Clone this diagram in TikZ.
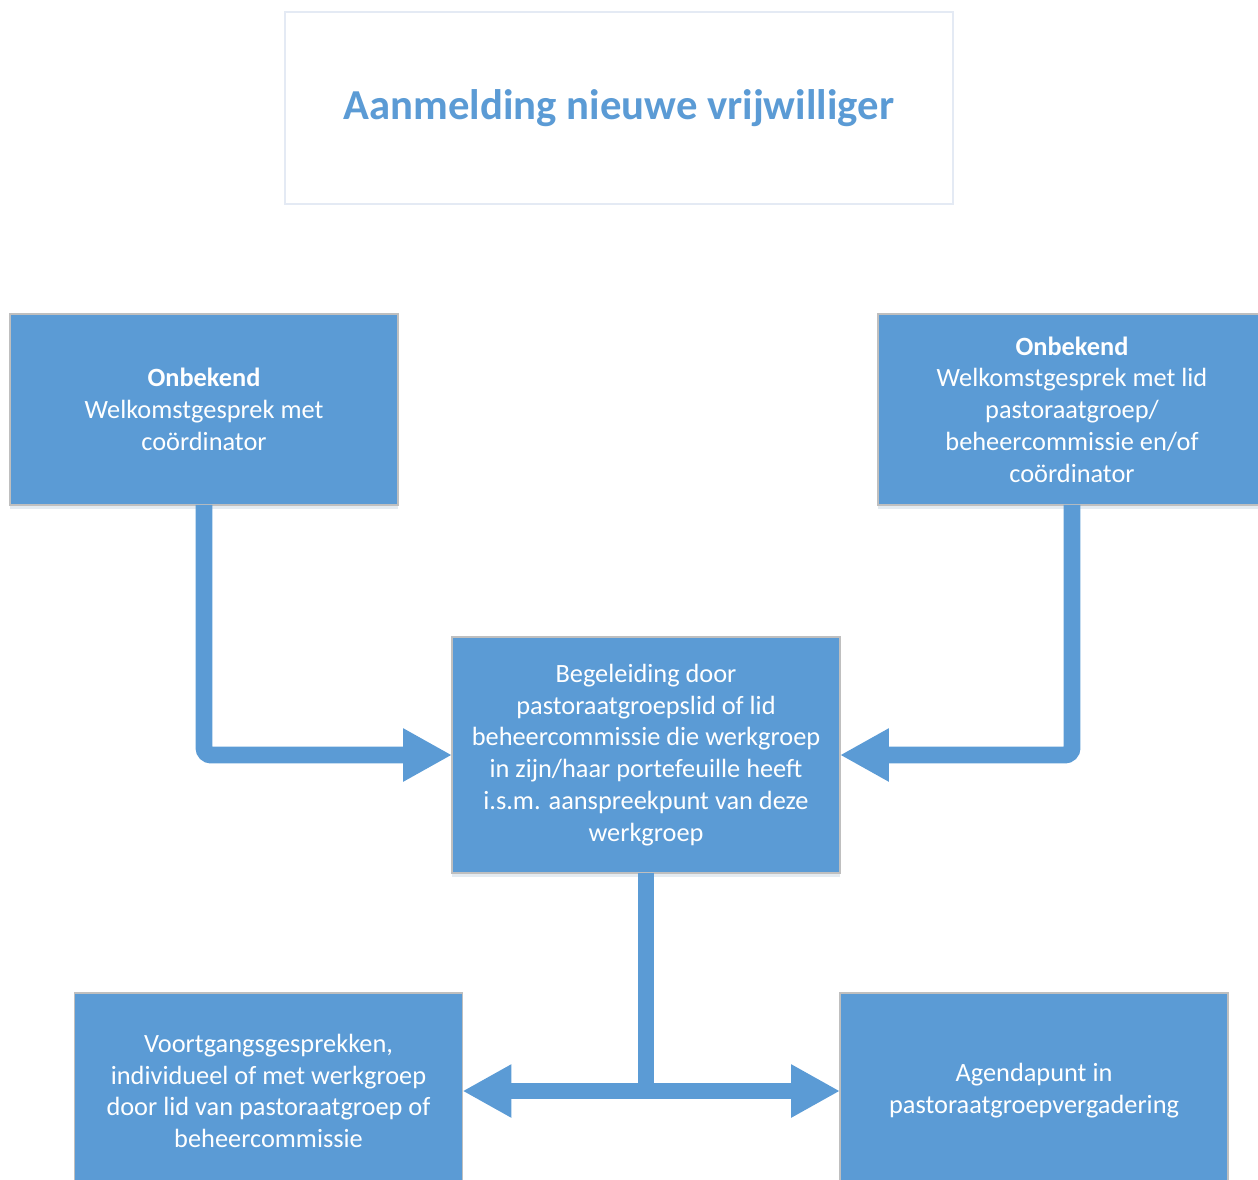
\documentclass[tikz,border=0pt]{standalone}
\usepackage{fontspec}
\setmainfont{Carlito}
\usetikzlibrary{arrows.meta,shadows}

\definecolor{vakblauw}{HTML}{5B9BD5}
\definecolor{vakrand}{HTML}{BFBFBF}
\definecolor{titelrand}{HTML}{E4EAF4}

\tikzset{
    vak/.style={draw=vakrand, line width=0.8pt, fill=vakblauw, text=white,
        inner sep=0pt, outer sep=0pt, minimum width=7.76cm, align=center,
        font=\fontsize{15}{18.1}\selectfont,
        drop shadow={shadow xshift=0pt, shadow yshift=-2.5pt, opacity=0.18, fill=vakblauw!60!gray}},
    titel/.style={draw=titelrand, line width=1.2pt, fill=white, text=vakblauw,
        inner sep=0pt, minimum width=13.36cm, minimum height=3.84cm,
        font=\fontsize{24.3}{29}\selectfont\bfseries},
    pijl/.style={draw=vakblauw, line width=9.6pt, rounded corners=4pt,
        -{Triangle[length=27.8pt, width=28.3pt]}},
    dubbelpijl/.style={pijl, {Triangle[length=27.8pt, width=28.3pt]}-{Triangle[length=27.8pt, width=28.3pt]}}
}

\begin{document}
\begin{tikzpicture}[x=0.02cm, y=-0.02cm]
        \useasboundingbox (0,0) rectangle (1258,1180);

        % Titel
        \node[titel] (Aanmelding) at (619,108) {Aanmelding nieuwe vrijwilliger};

        % Welkomstgesprekken
        \node[vak, minimum height=3.82cm] (OnbekendLinks) at (204,409.5)
            {\textbf{Onbekend}\\Welkomstgesprek met\\coördinator};
        \node[vak, minimum height=3.82cm] (OnbekendRechts) at (1072,409.5)
            {\textbf{Onbekend}\\Welkomstgesprek met lid\\pastoraatgroep/\\beheercommissie en/of\\coördinator};

        % Begeleiding
        \node[vak, minimum height=4.72cm] (Begeleiding) at (646,755)
            {Begeleiding door\\pastoraatgroepslid of lid\\beheercommissie die werkgroep\\in zijn/haar portefeuille heeft\\i.s.m. aanspreekpunt van deze\\werkgroep};

        % Vervolg
        \node[vak, minimum height=3.92cm] (Voortgang) at (268.5,1091)
            {Voortgangsgesprekken,\\individueel of met werkgroep\\door lid van pastoraatgroep of\\beheercommissie};
        \node[vak, minimum height=3.92cm] (Agendapunt) at (1034,1091)
            {Agendapunt in\\pastoraatgroepvergadering};

        % Verbindingen
        \draw[pijl] (OnbekendLinks.south) |- (Begeleiding.west);
        \draw[pijl] (OnbekendRechts.south) |- (Begeleiding.east);
        \draw[draw=vakblauw, line width=9.6pt] (Begeleiding.south) -- (Begeleiding.south |- Voortgang.east);
        \draw[dubbelpijl] (Voortgang.east) -- (Agendapunt.west);

    \end{tikzpicture}
\end{document}
